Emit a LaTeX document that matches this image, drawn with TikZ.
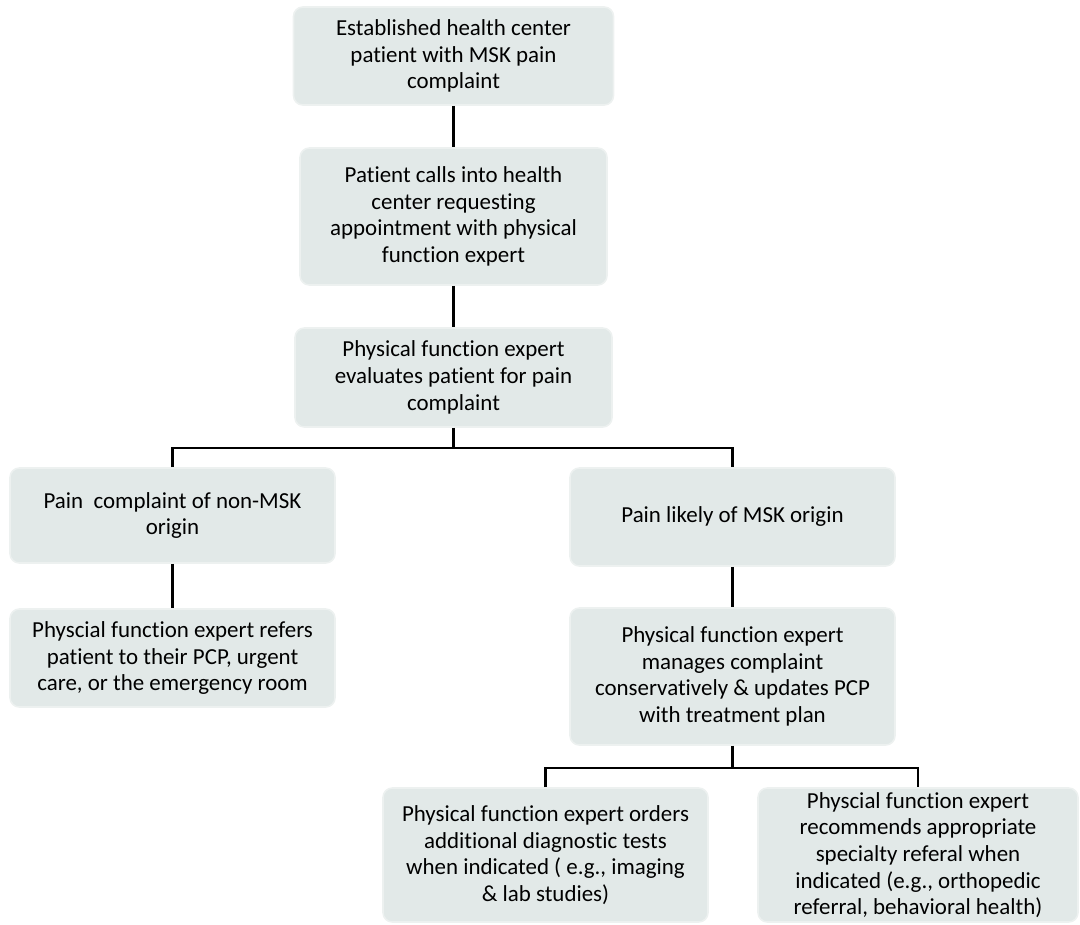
\documentclass[tikz,border=0pt]{standalone}
\usepackage{fontspec}
\setmainfont{Carlito}[Ligatures=NoCommon]
\definecolor{boxfill}{HTML}{E2E9E8}
\definecolor{boxedge}{HTML}{EDF1F0}
\begin{document}
\begin{tikzpicture}[x=0.75pt,y=-0.75pt,
  box/.style 2 args={rectangle, rounded corners=7pt, fill=boxfill, draw=boxedge,
    line width=1.2pt, align=center, inner sep=0pt,
    minimum width=#1*0.75pt, minimum height=#2*0.75pt,
    font=\fontsize{17.2}{20}\selectfont, text=black},
  link/.style={line width=1.6pt, black}]
\useasboundingbox (0,0) rectangle (1080,924);

\node[box={320}{98}] (b1) at (453.5,56) {Established health center\\patient with MSK pain\\complaint};
\node[box={307}{137}] (b2) at (453.5,216.5) {Patient calls into health\\center requesting\\appointment with physical\\function expert};
\node[box={317}{99}] (b3) at (453.5,377.5) {Physical function expert\\evaluates patient for pain\\complaint};
\node[box={325}{95}] (l1) at (172.5,515.5) {Pain\ \ complaint of non-MSK\\origin};
\node[box={325}{98}] (l2) at (172.5,658) {Physcial function expert refers\\patient to their PCP, urgent\\care, or the emergency room};
\node[box={325}{98}] (r1) at (732.5,517) {Pain likely of MSK origin};
\node[box={325}{137}] (r2) at (732.5,676.5) {Physical function expert\\manages complaint\\conservatively \& updates PCP\\with treatment plan};
\node[box={325}{134}] (d1) at (545.5,855) {Physical function expert orders\\additional diagnostic tests\\when indicated ( e.g., imaging\\\& lab studies)};
\node[box={320}{134}] (d2) at (918,855) {Physcial function expert\\recommends appropriate\\specialty referal when\\indicated (e.g., orthopedic\\referral, behavioral health)};

\coordinate (j1) at (453.5,448);
\coordinate (j2) at (732.5,768);

\draw[link] (b1.south) -- (b2.north);
\draw[link] (b2.south) -- (b3.north);
\draw[link] (b3.south) -- (j1);
\draw[link] (l1.north) |- (j1) -| (r1.north);
\draw[link] (l1.south) -- (l2.north);
\draw[link] (r1.south) -- (r2.north);
\draw[link] (r2.south) -- (j2);
\draw[link] (d1.north) |- (j2) -| (d2.north);
\end{tikzpicture}
\end{document}
